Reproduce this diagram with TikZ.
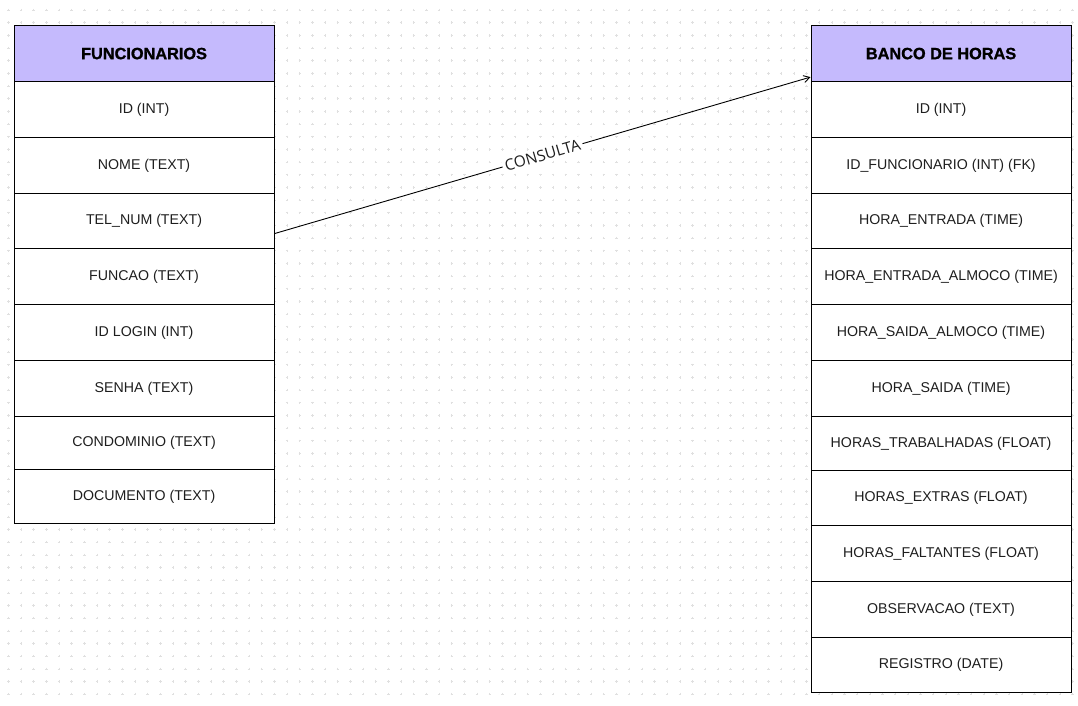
\documentclass[tikz,border=0pt]{standalone}
\usepackage{fontspec}
\setmainfont{Liberation Sans}
\newfontfamily\lblfont{Open Sans}
\newfontfamily\headfont[BoldFeatures={FakeBold=1.2}]{Liberation Sans}
\usetikzlibrary{arrows.meta,calc}
\definecolor{headfill}{HTML}{C5BAFD}
\definecolor{textcol}{HTML}{1E1E1E}
\definecolor{dotcol}{HTML}{E0E0E0}
\tikzset{
  cell/.style={draw=black, fill=white, line width=1.1pt, minimum width=260pt, inner sep=0pt, anchor=north west, text=textcol, font=\fontsize{14.2}{16}\selectfont},
  headcell/.style={cell, fill=headfill, font=\headfont\fontsize{16.3}{18}\selectfont\bfseries, text=black},
  arr/.style={-{Straight Barb[length=6pt,width=7pt]}, line width=0.9pt, black},
  lbl/.style={fill=white, inner sep=2.5pt, text=textcol, font=\lblfont\fontsize{15.5}{17}\selectfont}
}
\begin{document}
\begin{tikzpicture}[x=1pt,y=-1pt]
\useasboundingbox (0,0) rectangle (1078,705);
\fill[white] (0,0) rectangle (1078,705);
% dotted background
\foreach \i in {0,...,84}{
  \foreach \j in {0,...,54}{
    \draw[dotcol, line width=0.6pt] ({8.3+12.67*\i-1.2},{10+12.67*\j}) -- ++(2.4,0)
      ({8.3+12.67*\i},{10+12.67*\j-1.2}) -- ++(0,2.4);
  }
}
% FUNCIONARIOS table
\node[headcell, minimum height=56pt] (l0) at (13.5,25) {FUNCIONARIOS};
\foreach \n/\top/\h/\t in {
  1/81/56/{ID (INT)},
  2/137/56/{NOME (TEXT)},
  3/193/55/{TEL\_NUM (TEXT)},
  4/248/56/{FUNCAO (TEXT)},
  5/304/56/{ID LOGIN (INT)},
  6/360/56/{SENHA (TEXT)},
  7/416/53/{CONDOMINIO (TEXT)},
  8/469/54/{DOCUMENTO (TEXT)}}{
  \node[cell, minimum height=\h pt] (l\n) at (13.5,\top) {\t};
}
% BANCO DE HORAS table
\node[headcell, minimum height=56pt] (r0) at (810.5,25) {BANCO DE HORAS};
\foreach \n/\top/\h/\t in {
  1/81/56/{ID (INT)},
  2/137/56/{ID\_FUNCIONARIO (INT) (FK)},
  3/193/55/{HORA\_ENTRADA (TIME)},
  4/248/56/{HORA\_ENTRADA\_ALMOCO (TIME)},
  5/304/56/{HORA\_SAIDA\_ALMOCO (TIME)},
  6/360/56/{HORA\_SAIDA (TIME)},
  7/416/54/{HORAS\_TRABALHADAS (FLOAT)},
  8/470/55/{HORAS\_EXTRAS (FLOAT)},
  9/525/56/{HORAS\_FALTANTES (FLOAT)},
  10/581/56/{OBSERVACAO (TEXT)},
  11/637/55/{REGISTRO (DATE)}}{
  \node[cell, minimum height=\h pt] (r\n) at (810.5,\top) {\t};
}
% connector
\coordinate (cs) at ($(l3.east)+(0,12.5)$);
\coordinate (ce) at ($(r0.south west)+(0,-5)$);
\draw[arr] (cs) -- node[lbl, sloped] {CONSULTA} (ce);
\end{tikzpicture}
\end{document}
